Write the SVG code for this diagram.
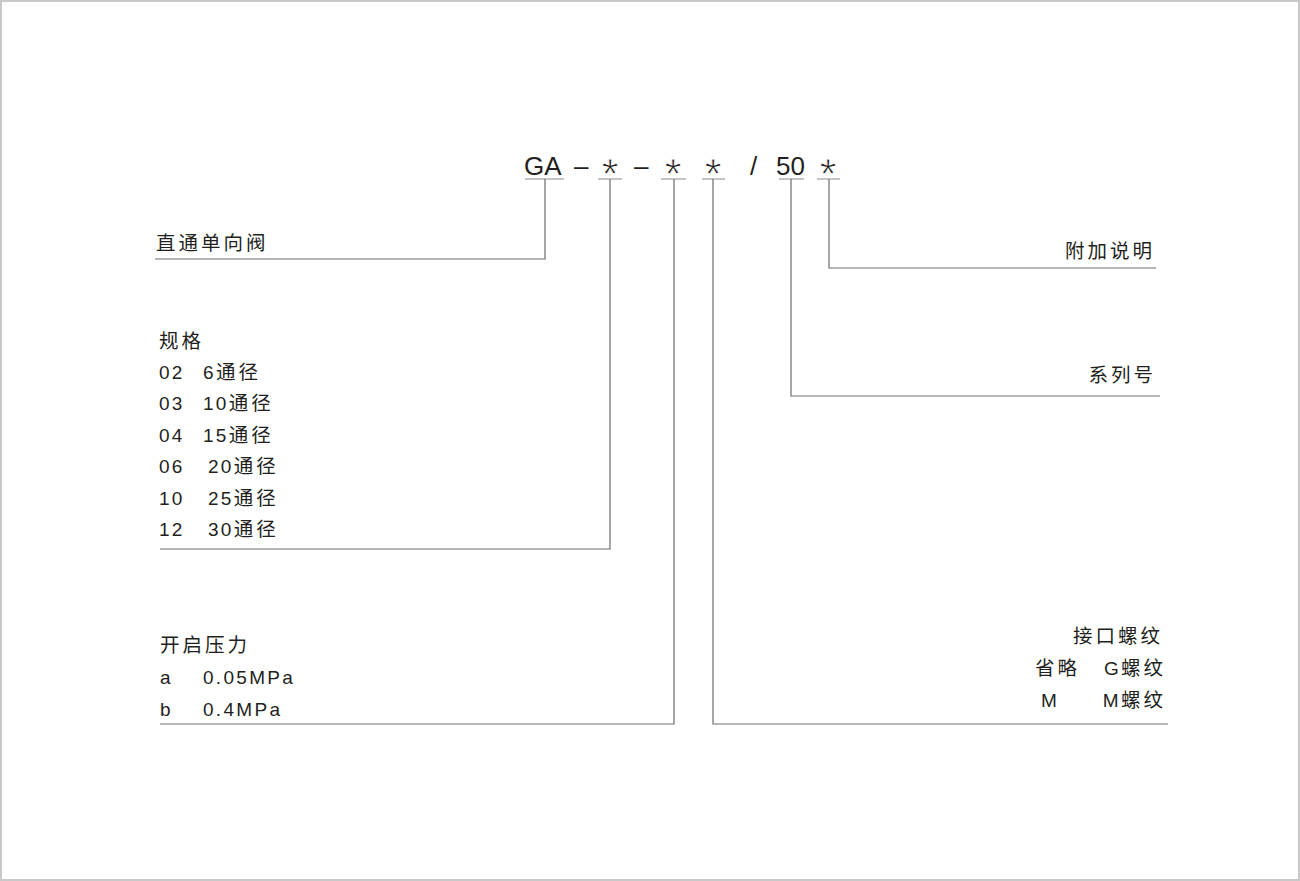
<svg xmlns="http://www.w3.org/2000/svg" width="1300" height="881" viewBox="0 0 1300 881">
<style>
.t{font-family:"Liberation Sans","Noto Sans CJK SC",sans-serif;font-size:19px;fill:#231f20;letter-spacing:2.3px}
.c{font-family:"Noto Sans CJK SC",sans-serif;font-size:19.5px;fill:#231f20;letter-spacing:3px}
.h{font-family:"Liberation Sans",sans-serif;font-size:26px;fill:#231f20}
.a{font-family:"Liberation Sans",sans-serif;font-size:43px;fill:#231f20;text-anchor:middle;stroke:#fff;stroke-width:0.8px}
.ln{stroke:#6d6d6d;stroke-width:1.2;fill:none}
.ul{stroke:#8a8a8a;stroke-width:1.2;fill:none}
.e{text-anchor:end}
</style>
<rect x="1" y="1" width="1298" height="879" fill="#fff" stroke="#c8c8c8" stroke-width="2"/>
<g id="header">
<text class="h" x="524" y="175">GA</text>
<text class="h" x="574" y="175">–</text>
<text class="a" x="610" y="188">*</text>
<text class="h" x="634" y="175">–</text>
<text class="a" x="673" y="188">*</text>
<text class="a" x="713" y="188">*</text>
<text class="h" x="750" y="175">/</text>
<text class="h" x="776" y="175">50</text>
<text class="a" x="828" y="188">*</text>
<path class="ul" d="M525 179H564M598 179H622M661 179H686M702 179H725M779 179H804M817 179H840"/>
</g>
<g id="connectors">
<path class="ln" d="M545 179V259H155"/>
<path class="ln" d="M610 179V549H160"/>
<path class="ln" d="M674 179V724H160"/>
<path class="ln" d="M713 179V724H1168"/>
<path class="ln" d="M791 179V396H1160"/>
<path class="ln" d="M829 179V268H1156"/>
</g>
<g id="node-type">
<text class="c" x="156" y="250">直通单向阀</text>
</g>
<g id="node-size">
<text class="c" x="159" y="348">规格</text>
<text class="t" x="159" y="379">02</text><text class="t" x="203" y="379">6<tspan class="c">通径</tspan></text>
<text class="t" x="159" y="410">03</text><text class="t" x="203" y="410">10<tspan class="c">通径</tspan></text>
<text class="t" x="159" y="442">04</text><text class="t" x="203" y="442">15<tspan class="c">通径</tspan></text>
<text class="t" x="159" y="473">06</text><text class="t" x="208" y="473">20<tspan class="c">通径</tspan></text>
<text class="t" x="159" y="505">10</text><text class="t" x="208" y="505">25<tspan class="c">通径</tspan></text>
<text class="t" x="159" y="536">12</text><text class="t" x="208" y="536">30<tspan class="c">通径</tspan></text>
</g>
<g id="node-pressure">
<text class="c" x="160" y="652">开启压力</text>
<text class="t" x="160" y="684">a</text><text class="t" x="203" y="684">0.05MPa</text>
<text class="t" x="160" y="716">b</text><text class="t" x="203" y="716">0.4MPa</text>
</g>
<g id="node-note">
<text class="c e" x="1155" y="258">附加说明</text>
</g>
<g id="node-series">
<text class="c e" x="1156" y="382">系列号</text>
</g>
<g id="node-thread">
<text class="c e" x="1163" y="643">接口螺纹</text>
<text class="c" x="1035" y="675">省略</text>
<text class="t e" x="1166" y="675">G<tspan class="c">螺纹</tspan></text>
<text class="t" x="1041" y="707">M</text>
<text class="t e" x="1166" y="707">M<tspan class="c">螺纹</tspan></text>
</g>
</svg>
